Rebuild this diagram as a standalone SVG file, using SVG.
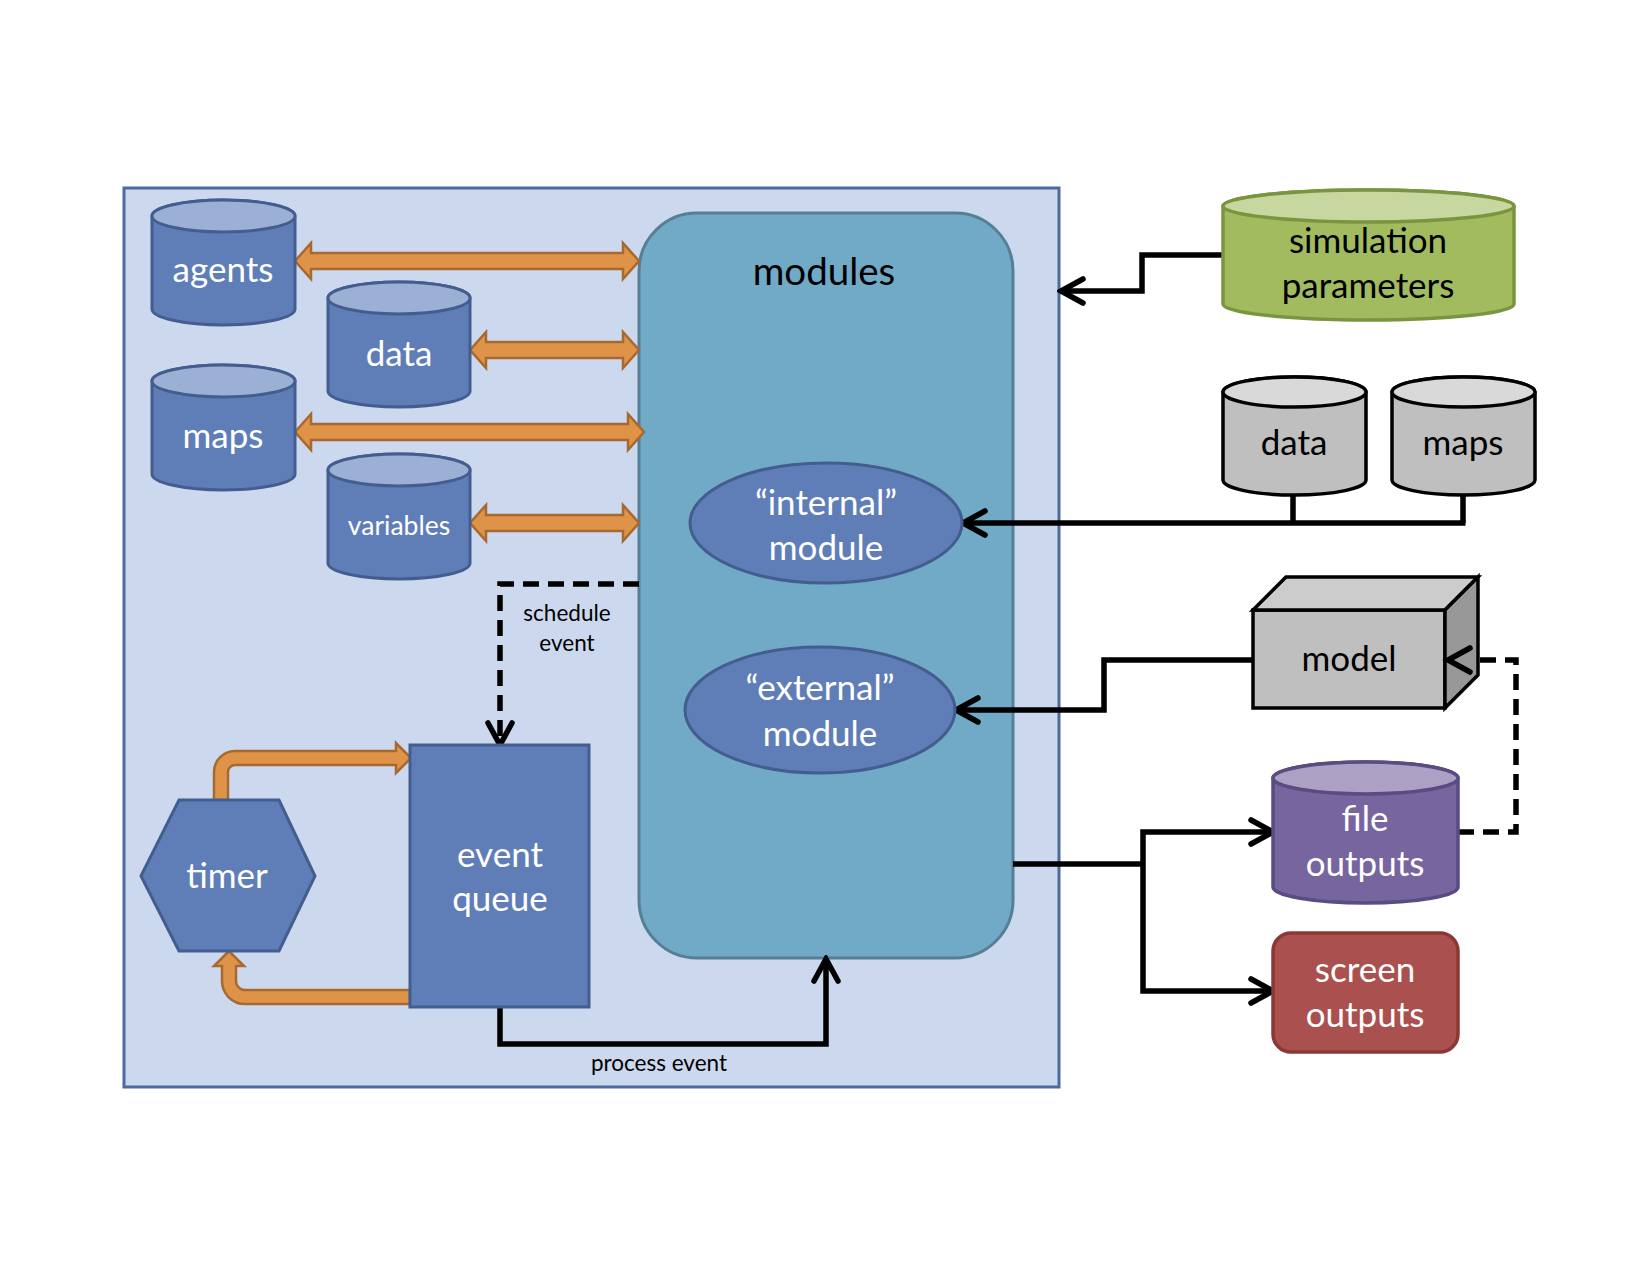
<svg xmlns="http://www.w3.org/2000/svg" width="1650" height="1275" viewBox="0 0 1650 1275">
<defs>
<style>
.t{font-family:Lato,"Open Sans","Liberation Sans",sans-serif;text-anchor:middle}
.w{fill:#fff}
.k{fill:#000}
.big{font-size:35px}
.sm{font-size:22.5px}
.blue{fill:#5F7EB8;stroke:#435E8E;stroke-width:3}
.bluetop{fill:#9CB0D5;stroke:#435E8E;stroke-width:3}
.orange{fill:#DF9349;stroke:#A7692F;stroke-width:2.5;stroke-linejoin:miter}
.grey{fill:#BFBFBF;stroke:#000;stroke-width:3.5}
.greytop{fill:#D9D9D9;stroke:#000;stroke-width:3.5}
.line{fill:none;stroke:#000;stroke-width:5.5;stroke-linejoin:miter}
.dash{stroke-dasharray:16 9}
.arr{marker-end:url(#ah)}
</style>
<marker id="ah" viewBox="0 0 32 32" refX="28" refY="16" markerWidth="32" markerHeight="32" orient="auto" markerUnits="userSpaceOnUse">
<path d="M6,4 L28,16 L6,28" fill="none" stroke="#000" stroke-width="5.5" stroke-linecap="round" stroke-linejoin="miter"/>
</marker>
</defs>
<rect width="1650" height="1275" fill="#fff"/>

<g id="simulation-container">
<rect x="124" y="188" width="935" height="899" fill="#CBD8EE" stroke="#4E6A9C" stroke-width="3"/>
</g>

<g id="modules">
<rect x="639" y="213" width="374" height="745" rx="58" ry="58" fill="#71AAC6" stroke="#577F93" stroke-width="3"/>
<text class="t k" x="824" y="285" font-size="38.5">modules</text>
</g>

<g id="connectors">
<polygon class="orange" points="295,261 311,243 311,253 623,253 623,243 639,261 623,279 623,269 311,269 311,279"/>
<polygon class="orange" points="470,350 486,332 486,342 623,342 623,332 639,350 623,368 623,358 486,358 486,368"/>
<polygon class="orange" points="295,432 311,414 311,424 628,424 628,414 644,432 628,450 628,440 311,440 311,450"/>
<polygon class="orange" points="470,523 486,505 486,515 623,515 623,505 639,523 623,541 623,531 486,531 486,541"/>
<path class="orange" d="M214,800 L214,772 A21,21 0 0 1 235,751 L396,751 L396,743 L411,758 L396,773 L396,765 L235,765 A7,7 0 0 0 228,772 L228,800 Z"/>
<path class="orange" d="M410,990 L245,990 A9,9 0 0 1 236,981 L236,966 L244,966 L229,951 L214,966 L222,966 L222,981 A23,23 0 0 0 245,1004 L410,1004 Z"/>
<path class="line dash arr" d="M639,584 L500,584 L500,745"/>
<path class="line arr" d="M500,1007 L500,1044 L826,1044 L826,959"/>
<path class="line arr" d="M1223,255 L1142,255 L1142,291 L1061,291"/>
<path class="line" d="M1293,495 L1293,523 M1463,495 L1463,523"/>
<path class="line arr" d="M1465.5,523 L963,523"/>
<path class="line arr" d="M1253,660 L1104,660 L1104,710 L956,710"/>
<path class="line dash arr" d="M1458,832 L1516,832 L1516,660 L1448,660"/>
<path class="line" d="M1013,864 L1143,864"/>
<path class="line arr" d="M1143,864 L1143,832 L1273,832"/>
<path class="line arr" d="M1143,864 L1143,991 L1273,991"/>
<text class="t k sm" x="567" y="621">schedule</text>
<text class="t k sm" x="567" y="651">event</text>
<text class="t k sm" x="659" y="1071">process event</text>
</g>

<g id="agents">
<path class="blue" d="M152,216 A71.5,16 0 0 1 295,216 L295,309 A71.5,16 0 0 1 152,309 Z"/>
<ellipse class="bluetop" cx="223.5" cy="216" rx="71.5" ry="16"/>
<text class="t w big" x="223" y="282">agents</text>
</g>

<g id="data-internal">
<path class="blue" d="M328,298 A71,16 0 0 1 470,298 L470,391 A71,16 0 0 1 328,391 Z"/>
<ellipse class="bluetop" cx="399" cy="298" rx="71" ry="16"/>
<text class="t w big" x="399" y="366">data</text>
</g>

<g id="maps-internal">
<path class="blue" d="M152,381 A71.5,16 0 0 1 295,381 L295,474 A71.5,16 0 0 1 152,474 Z"/>
<ellipse class="bluetop" cx="223.5" cy="381" rx="71.5" ry="16"/>
<text class="t w big" x="223" y="448">maps</text>
</g>

<g id="variables">
<path class="blue" d="M328,470 A71,16 0 0 1 470,470 L470,563 A71,16 0 0 1 328,563 Z"/>
<ellipse class="bluetop" cx="399" cy="470" rx="71" ry="16"/>
<text class="t w" x="399" y="535" font-size="26.5">variables</text>
</g>

<g id="timer">
<polygon class="blue" points="141,876 179,800 279,800 315,876 279,951 179,951"/>
<text class="t w big" x="227" y="888">timer</text>
</g>

<g id="event-queue">
<rect class="blue" x="410" y="745" width="179" height="262"/>
<text class="t w big" x="500" y="867">event</text>
<text class="t w big" x="500" y="911">queue</text>
</g>

<g id="internal-module">
<ellipse class="blue" cx="826" cy="523" rx="136" ry="60"/>
<text class="t w big" x="826" y="515">“internal”</text>
<text class="t w big" x="826" y="560">module</text>
</g>

<g id="external-module">
<ellipse class="blue" cx="820" cy="710" rx="135" ry="63"/>
<text class="t w big" x="820" y="700">“external”</text>
<text class="t w big" x="820" y="746">module</text>
</g>

<g id="simulation-parameters">
<path d="M1223,206 A145.5,16 0 0 1 1514,206 L1514,304 A145.5,16 0 0 1 1223,304 Z" fill="#A2BB5E" stroke="#7A9540" stroke-width="3.5"/>
<ellipse cx="1368.5" cy="206" rx="145.5" ry="16" fill="#C8D6A0" stroke="#7A9540" stroke-width="3.5"/>
<text class="t k big" x="1368" y="253">simulation</text>
<text class="t k big" x="1368" y="298">parameters</text>
</g>

<g id="data-external">
<path class="grey" d="M1223,392 A71.5,15 0 0 1 1366,392 L1366,480 A71.5,15 0 0 1 1223,480 Z"/>
<ellipse class="greytop" cx="1294.5" cy="392" rx="71.5" ry="15"/>
<text class="t k big" x="1294" y="455">data</text>
</g>

<g id="maps-external">
<path class="grey" d="M1392,392 A71.5,15 0 0 1 1535,392 L1535,480 A71.5,15 0 0 1 1392,480 Z"/>
<ellipse class="greytop" cx="1463.5" cy="392" rx="71.5" ry="15"/>
<text class="t k big" x="1463" y="455">maps</text>
</g>

<g id="model">
<rect x="1253" y="610" width="192" height="98" fill="#BFBFBF" stroke="#000" stroke-width="3.5"/>
<polygon points="1253,610 1286,577 1478,577 1445,610" fill="#CCCCCC" stroke="#000" stroke-width="3.5" stroke-linejoin="miter"/>
<polygon points="1445,610 1478,577 1478,675 1445,708" fill="#989898" stroke="#000" stroke-width="3.5" stroke-linejoin="miter"/>
<text class="t k big" x="1349" y="671">model</text>
</g>

<g id="file-outputs">
<path d="M1273,778 A92.5,16 0 0 1 1458,778 L1458,887 A92.5,16 0 0 1 1273,887 Z" fill="#77659F" stroke="#5A4B80" stroke-width="3.5"/>
<ellipse cx="1365.5" cy="778" rx="92.5" ry="16" fill="#ACA1C4" stroke="#5A4B80" stroke-width="3.5"/>
<text class="t w big" x="1365" y="831">file</text>
<text class="t w big" x="1365" y="876">outputs</text>
</g>

<g id="screen-outputs">
<rect x="1273" y="933" width="185" height="119" rx="18" ry="18" fill="#AA504E" stroke="#8B3735" stroke-width="3.5"/>
<text class="t w big" x="1365" y="982">screen</text>
<text class="t w big" x="1365" y="1027">outputs</text>
</g>

<g id="model-arrowhead-overlay">
<path d="M1470,648 L1448,660 L1470,672" fill="none" stroke="#000" stroke-width="5.5" stroke-linecap="round"/>
</g>
</svg>
